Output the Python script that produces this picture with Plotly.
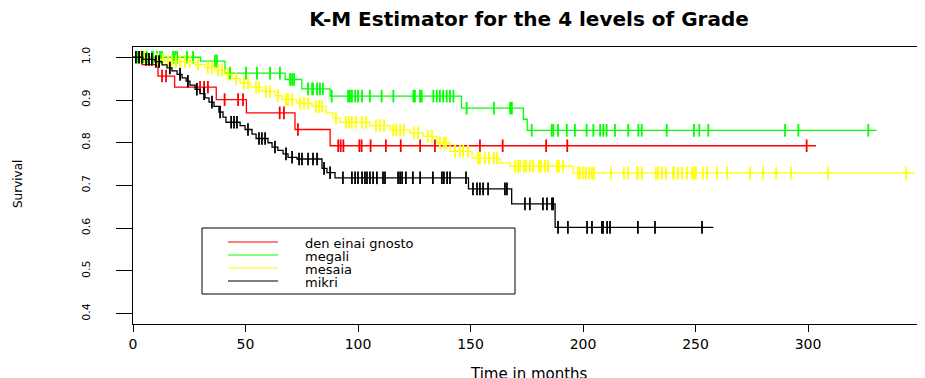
import numpy as np
import plotly.graph_objects as go

# ---------------- data ----------------
group_names = ["den einai gnosto", "megali", "mesaia", "mikri"]
group_colors = ["#FF0000", "#00FF00", "#FFFF00", "#000000"]

# red : den einai gnosto
red_time = [0, 4, 11.1, 18.5, 37, 50.4, 72, 87.6]
red_surv = [1.0, 0.983, 0.956, 0.930, 0.901, 0.870, 0.831, 0.793]
red_end = 303.5
red_cens = [12.9, 14.7, 29.8, 31.6, 33.3, 40.7, 46.7, 48.9, 65.2, 67.1, 73.3,
            91.2, 92.3, 93.5, 100.6, 101.6, 105.6, 112.4, 119, 127.6, 134.2,
            154.2, 164.3, 183.6, 193, 299.4]

# green : megali
green_time = [0, 30, 40.9, 67.6, 75, 87.6, 146, 173.5, 175.2]
green_surv = [1.0, 0.991, 0.963, 0.948, 0.926, 0.909, 0.881, 0.855, 0.829]
green_end = 330.5
green_cens = [2.2, 4.4, 6.2, 8.4, 8.9, 10.7, 12, 12.9, 17.8, 18.7, 19.6, 24, 26.7,
              36.4, 37.3, 43.1, 50.2, 55.1, 60.9, 65.3, 69.8, 70.7, 71.6,
              77.8, 79.6, 80, 81.8, 83.1, 84.4,
              88.3, 95.6, 96.4, 97.3, 98.7, 100, 101.8, 105.3, 110.5, 115.7,
              124.6, 125.3, 127.6, 128.3, 133.5, 135, 136.4, 137.9, 139.4, 140.9, 142.4,
              148.3, 160.4, 167.6, 168.4,
              177.2, 186.1, 186.8, 188.9, 192.8, 196.4, 201.6, 204.6, 207.6, 209,
              210.5, 214.2, 220.1, 224.6, 226.1, 237.2, 249.3, 251.7, 255.7,
              289.8, 295.7, 326.8]

# yellow : mesaia
yellow_time = [0, 7.6, 14.2, 27.6, 32, 36.4, 40.9, 44, 47.6, 52,
               57.3, 63.1, 66.2, 72.9, 79.6, 85.8, 88.9, 92, 105.3, 114.2,
               123.1, 128.9, 135.1, 140.9, 150.7, 163.1, 167.6, 195.6]
yellow_surv = [1.0, 0.995, 0.99, 0.983, 0.976, 0.97, 0.96, 0.95, 0.94, 0.93,
               0.92, 0.91, 0.901, 0.893, 0.885, 0.87, 0.857, 0.848, 0.84, 0.83,
               0.823, 0.815, 0.80, 0.78, 0.764, 0.753, 0.745, 0.729]
yellow_end = 347.6
yellow_cens = [3.1, 5.3, 8.4, 10.7, 13.3, 15.6, 17.3, 19.1, 20.9, 23.1, 25.3, 28.9,
               33.3, 35.1, 37.8, 39.6, 42.2, 45.8, 49.3, 51.1, 54.7, 56, 59.1, 60.9,
               64.4, 68, 68.9, 70.7, 74.2, 76, 77.8, 81.3, 82.7, 84, 90.2, 94.7, 96,
               97.3, 99.1, 101.8, 103.6, 108, 109.8, 111.6, 115.6, 116.9, 118.7,
               120.4, 124.9, 126.7, 131.1, 132.9, 136.4, 138.2, 139.1, 143.1, 145.3,
               146.7, 148.9, 153.3, 154.2, 156.4, 158.2, 160.4, 161.8, 169.8, 171.1,
               172, 173.8, 174.7, 176.4, 177.8, 180.4, 181.3, 183.1, 184.4, 188.4,
               189.3, 191.1, 197.8, 198.7, 200, 201.3, 202.7, 204, 204.9, 212.4,
               218.2, 220, 224, 224.4, 226.2, 232.4, 233.3, 235.1, 236.9, 240, 240.4,
               242.2, 244, 246.2, 248.4, 249.3, 250.2, 253.3, 255.1, 259.6, 264,
               274.2, 280, 285.8, 292.4, 308.9, 343.6]

# black : mikri
black_time = [0, 4.4, 9.8, 12.9, 15.1, 17.3, 19.6, 21.8, 23.6, 25.3,
              27.6, 29.8, 32, 33.8, 36, 38.2, 40, 41.3, 47.6, 49.8,
              52.9, 54.7, 60, 61.8, 64.4, 66.7, 68.9, 72.9, 84, 86.2,
              89.8, 149.1, 168.3, 187.6]
black_surv = [1.0, 0.995, 0.99, 0.982, 0.975, 0.968, 0.96, 0.952, 0.944, 0.935,
              0.925, 0.915, 0.905, 0.895, 0.885, 0.872, 0.86, 0.848, 0.84, 0.831,
              0.82, 0.81, 0.80, 0.79, 0.782, 0.774, 0.766, 0.762, 0.74, 0.73,
              0.718, 0.692, 0.657, 0.602]
black_end = 257.9
black_cens = [1.3, 2.7, 4, 5.8, 7.1, 8.4, 10.2, 11.6, 16.4, 20.9, 24.4, 28.4, 31.6,
              35.1, 38.7, 43.6, 44.9, 46.2, 51.1, 56, 57.3, 58.7, 63.1, 68, 70.7,
              73.8, 75.1, 77.8, 80, 81.8, 84.9, 87.6, 93.3, 97.3, 98.7, 100, 101.8,
              103.1, 104, 105.3, 106.7, 108.4, 111.1, 112, 117.8, 118.7, 119.6,
              121.3, 124.4, 127.6, 133.3, 137.3, 138.2, 139.6, 140.9, 148, 151.1,
              152.9, 154.2, 155.6, 157.8, 165.3, 166.2, 174.2, 176.4, 182.2, 184,
              186.2, 186.7, 188.9, 193.3, 201.8, 204, 208.4, 208.9, 210.7, 212,
              224.4, 232, 252.9]

x_ticks = [0, 50, 100, 150, 200, 250, 300]
y_ticks = [0.4, 0.5, 0.6, 0.7, 0.8, 0.9, 1.0]
y_tick_labels = ["0.4", "0.5", "0.6", "0.7", "0.8", "0.9", "1.0"]

groups = [
    (red_time, red_surv, red_end, red_cens),
    (green_time, green_surv, green_end, green_cens),
    (yellow_time, yellow_surv, yellow_end, yellow_cens),
    (black_time, black_surv, black_end, black_cens),
]

FONT = "DejaVu Sans"

# ---------------- figure geometry ----------------
# the page body has an 8px margin, so the figure is drawn 8px smaller
OFF = 8
W, H = 925 - OFF, 378 - OFF
# plot area in page pixels: left 133, right 925 (cut), top 47, bottom 324
PL, PR, PT, PB = 133, 925, 47, 324
L, T = PL - OFF, PT - OFF
R = 0
B = H - (PB - OFF)
PW, PH = PR - PL, PB - PT


def px2x(px):
    return (px - PL) / PW


def py2y(py):
    return (PB - py) / PH


fig = go.Figure()
for (tt, ss, tend, cens), name, col in zip(groups, group_names, group_colors):
    xs = list(tt) + [tend]
    ys = list(ss) + [ss[-1]]
    fig.add_trace(go.Scatter(x=xs, y=ys, mode="lines", line=dict(color=col, width=1.3, shape="hv"),
                             name=name, showlegend=False, hoverinfo="skip"))
    tarr = np.array(tt)
    c = np.array(cens)
    idx = np.searchsorted(tarr, c, side="right") - 1
    cy = np.array(ss)[idx]
    fig.add_trace(go.Scatter(x=c, y=cy, mode="markers",
                             marker=dict(symbol="line-ns", size=9, color=col,
                                         line=dict(width=1.8, color=col)),
                             showlegend=False, name=name))

# manual legend (R style box)
shapes = [dict(type="rect", xref="paper", yref="paper",
               x0=px2x(202), x1=px2x(515), y0=py2y(294), y1=py2y(228),
               line=dict(color="black", width=1), fillcolor="rgba(255,255,255,0)")]
annotations = []
row_py = [242, 255, 268, 281]
for name, col, rp in zip(group_names, group_colors, row_py):
    shapes.append(dict(type="line", xref="paper", yref="paper",
                       x0=px2x(228), x1=px2x(278), y0=py2y(rp), y1=py2y(rp),
                       line=dict(color=col, width=1.2)))
    annotations.append(dict(text=name, xref="paper", yref="paper", x=px2x(303), y=py2y(rp + 1.5),
                            xanchor="left", yanchor="middle", showarrow=False,
                            font=dict(family=FONT, size=13, color="black")))

# axis titles
annotations.append(dict(text="Time in months", xref="paper", yref="paper", x=0.5, y=0,
                        xanchor="center", yanchor="top", yshift=-39, showarrow=False,
                        font=dict(family=FONT, size=15, color="black")))
annotations.append(dict(text="Survival", xref="paper", yref="paper", x=0, y=py2y(184),
                        xanchor="center", yanchor="middle", xshift=18 - PL, textangle=-90,
                        showarrow=False, font=dict(family=FONT, size=12, color="black")))

fig.update_layout(
    width=W, height=H,
    margin=dict(l=L, r=R, t=T, b=B, autoexpand=False),
    paper_bgcolor="white", plot_bgcolor="white",
    title=dict(text="K-M Estimator for the 4 levels of Grade", x=0.5, xref="paper",
               xanchor="center", y=1 - (19 - OFF) / H, yref="container", yanchor="middle",
               font=dict(family=FONT, size=20, color="black", weight="bold")),
    shapes=shapes, annotations=annotations, showlegend=False,
    xaxis=dict(range=[0, 352], tickvals=x_ticks, ticks="outside", ticklen=7, tickcolor="black",
               showline=True, linecolor="black", linewidth=1, mirror=True,
               showgrid=False, zeroline=False,
               tickfont=dict(family=FONT, size=14, color="black")),
    yaxis=dict(range=[0.376, 1.024], tickvals=y_ticks, ticktext=y_tick_labels,
               ticks="outside", ticklen=16, tickcolor="black", tickangle=-90,
               ticklabelstandoff=22,
               showline=True, linecolor="black", linewidth=1, mirror=False,
               showgrid=False, zeroline=False,
               tickfont=dict(family=FONT, size=11, color="black")),
)

fig.write_html("out.html")
